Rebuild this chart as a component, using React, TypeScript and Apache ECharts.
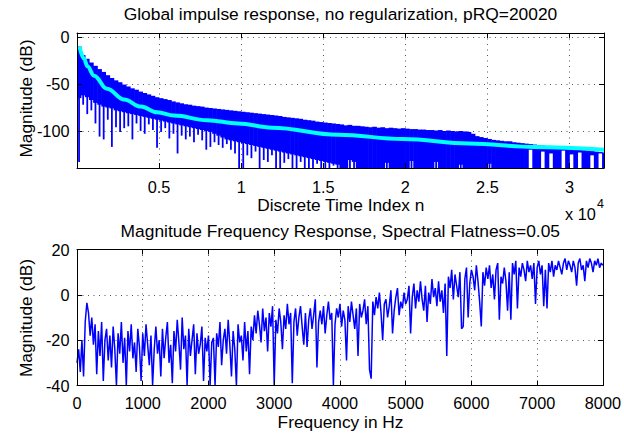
import React, { useEffect, useRef } from 'react';
import * as echarts from 'echarts';

// ---------- Top plot: impulse response (columns of 250 samples) ----------
const IR_FIRST_N = 125;
const IR_STEP = 250;
// upper edge of the blue mass (dB) per column
const irTop = [
  -10, -19, -23, -27, -30.5, -34, -37, -40.5, -43.5, -46,
  -48, -50.5, -52.5, -54.5, -56, -58, -59.5, -61, -62.5, -64,
  -65, -66, -67, -68.5, -69.5, -70.5, -71.5, -72, -73, -73.5,
  -74, -75, -75.5, -76, -76.5, -77, -77.5, -78, -78.5, -79,
  -79.5, -80, -80.5, -81, -81.5, -82, -82.5, -83, -83.5, -84,
  -85, -85.5, -86, -86.5, -87, -88, -88.5, -89, -90, -90.5,
  -91, -91.5, -92, -92.5, -93, -94, -93.5, -94.5, -94.5, -95,
  -95.5, -96, -95.5, -96.5, -96, -97, -96.5, -97, -97.5, -97,
  -97.5, -98, -98, -98.5, -98.5, -99, -99, -99.5, -99, -100,
  -99.5, -100, -100.5, -100, -100.5, -101, -103, -105.5, -106.5, -107.5,
  -108.5, -109.5, -110, -110.5, -111, -111, -112, -112.5, -113, -113.5,
  -114, -114.5, -115, -115.5, -116, -116.5, -117, -117.5, -118, -118.5,
  -119, -119.5, -120, -120.5, -121, -121.5, -122, -122.5, -123,
];
// lower edge of the solid blue core (dB) per column
const irCore = [
  -65, -62, -64, -67, -70, -72, -74, -75, -76, -78,
  -79, -80, -81, -82, -83, -84, -85, -86, -87, -88,
  -89, -90, -91, -92, -93, -94, -95, -96, -97, -98,
  -99, -100, -101, -103, -105, -107, -109, -110, -111, -112,
  -113, -114, -115, -116, -117, -118, -119, -120, -121, -122,
  -123, -124, -125, -126, -127, -128, -129, -130, -131, -132,
  -133, -134, -135, -136, -139.5, -139.5, -131, -133, -139.5, -139.5,
  -139.5, -139.5, -139.5, -139.5, -139.5, -134, -139.5, -139.5, -139.5, -139.5,
  -139.5, -132, -139.5, -139.5, -139.5, -139.5, -139.5, -133, -139.5, -139.5,
  -139.5, -139.5, -139.5, -136, -139.5, -139.5, -139.5, -139.5, -139.5, -139.5,
  -135, -139.5, -139.5, -139.5, -139.5, -139.5, -139.5, -139.5, -139.5, -139.5,
  -120, -139.5, -139.5, -122, -139.5, -124, -139.5, -139.5, -121, -139.5,
  -125, -139.5, -123, -139.5, -139.5, -126, -139.5, -124, -139.5,
];
// deepest thin spike below the core (dB) per column
const irSpike = [
  -133, -72, -82, -78, -92, -106, -109, -88, -117, -96,
  -101, -97, -95, -109, -92, -100, -103, -93, -99, -118,
  -101, -97, -108, -103, -124, -105, -109, -106, -112, -104,
  -110, -120, -117, -112, -115, -118, -114, -120, -124, -139.5,
  -139.5, -126, -129, -122, -139.5, -131, -133, -126, -139.5, -139.5,
  -134, -130, -139.5, -139.5, -133, -139.5, -139.5, -139.5, -135, -139.5,
  -139.5, -139.5, -137, -139.5, -139.5, -139.5, -139.5, -139.5, -139.5, -139.5,
  -139.5, -139.5, -139.5, -139.5, -139.5, -139.5, -139.5, -139.5, -139.5, -139.5,
  -139.5, -139.5, -139.5, -139.5, -139.5, -139.5, -139.5, -139.5, -139.5, -139.5,
  -139.5, -139.5, -139.5, -139.5, -139.5, -139.5, -139.5, -139.5, -139.5, -139.5,
  -139.5, -139.5, -139.5, -139.5, -139.5, -139.5, -139.5, -139.5, -139.5, -139.5,
  -120, -139.5, -139.5, -122, -139.5, -124, -139.5, -139.5, -121, -139.5,
  -125, -139.5, -123, -139.5, -139.5, -126, -139.5, -124, -139.5,
];
// cyan fitted decay curve
const fitN = [150, 430, 630, 1040, 1830, 2870, 3890, 4880, 5910, 7920, 9810, 11880, 15900, 19860, 23880, 27840, 32100];
const fitDb = [-10, -23, -31, -41, -55, -66.5, -74, -80, -83.5, -88.5, -92, -96.5, -104, -108.6, -113.4, -117, -120];
const irXTicks = [5000, 10000, 15000, 20000, 25000, 30000];
const irYTicks = [0, -50, -100];

// ---------- Bottom plot: magnitude frequency response (25 Hz bins) ----------
const FREQ_STEP = 25;
const freqDb = [
  -30, -24, -34, -20, -36, -12, -3.5, -8, -18, -10,
  -22, -13, -35, -16, -27, -12, -38, -20, -15, -29,
  -18, -32, -14, -24, -40, -17, -26, -12, -30, -19,
  -40, -16, -25, -13, -28, -21, -34, -15, -23, -38,
  -17, -27, -13, -22, -31, -18, -40, -24, -14, -26,
  -20, -36, -15, -28, -19, -12, -30, -22, -39, -16,
  -25, -11, -21, -33, -10, -24, -18, -40, -15, -27,
  -20, -13, -35, -17, -26, -22, -14, -38, -19, -25,
  -18, -40, -21, -19, -40, -17, -23, -12, -31, -20,
  -15, -26, -11, -22, -36, -16, -24, -40, -13, -21,
  -18, -29, -12, -25, -16, -35, -14, -20, -9, -17,
  -7, -13, -21, -6, -16, -10, -25, -8, -14, -5,
  -40, -11, -17, -6, -12, -24, -9, -15, -4, -13,
  -8, -39, -12, -6, -18, -10, -5, -14, -22, -8,
  -23, -11, -6, -15, -9, -2, -32, -12, -7, -13,
  -5, -17, -9, -3, -11, -8, -40, -13, -6, -10,
  -4, -14, -7, -11, -29, -5, -12, -3, -9, -15,
  -6, -27, -4, -10, -7, -2, -13, -5, -33, -37,
  -3, -9, -1, -6, 1, -8, -20, -4, -2, -10,
  -5, 2, -17, -7, -1, 3, -9, -3, -6, 1,
  -4, -2, 4, -17, -1, 5, -6, 2, -3, 6,
  -2, -7, 4, -12, 1, -4, 7, -1, 3, -5,
  6, -3, 2, -8, 5, -27, 8, 3, 11, -2,
  9, 4, -1, 10, -15, -14, 7, 12, -10, 5,
  11, 8, 2, 13, 6, -3, -14, 10, 4, 12,
  7, 13, 3, 9, -2, 11, 14, -11, 8, 5,
  12, 6, -7, 10, -11, 14, 9, 15, -6, 12,
  8, 14, 11, 6, 15, 10, 13, 7, 14, -4,
  12, 15, 9, 13, -5, 11, -6, 14, 10, 15,
  8, 13, 11, 15, 12, 9, 14, 16, 11, 15,
  13, 10, 15, 12, 4, 14, 16, 11, 13, 6,
  15, 12, 16, 14, 10, 15, 13, 16, 12, 14,
  13,
];

const FONT = '"Liberation Sans", Arial, Helvetica, sans-serif';
const BLUE = '#0000ff';
const CYAN = '#00ffff';

export default function App() {
  const ref = useRef<HTMLDivElement>(null);

  useEffect(() => {
    if (!ref.current) return;
    const chart = echarts.init(ref.current, null, { renderer: 'svg' });

    const irData = irTop.map((t, i) => [IR_FIRST_N + IR_STEP * i, t, irCore[i], irSpike[i]]);
    const fitData = fitN.map((n, i) => [n, fitDb[i]]);
    const freqData = freqDb.map((v, i) => [i * FREQ_STEP, v]);

    const gridLine = { show: true, lineStyle: { color: '#555', width: 1, type: [1, 4.5] } };
    const tickLabel = { color: '#000', fontFamily: FONT, fontSize: 16.3 };
    const frameLine = { show: true, onZero: false, lineStyle: { color: '#000', width: 1 } };
    const frameTick = (custom?: number[]) => ({
      show: true, inside: true, length: 5, lineStyle: { color: '#000', width: 1 },
      ...(custom ? { customValues: custom } : {}),
    });

    const topX = { min: 0, max: 32100 };
    const topY = { min: -139.5, max: 4.5 };
    const botX = { min: 0, max: 8000, interval: 1000 };
    const botY = { min: -40, max: 20, interval: 20 };
    const plain = (v: number) => String(v);

    const xAxis: any[] = [
      { type: 'value', gridIndex: 0, position: 'bottom', z: 1, ...topX,
        axisLine: { show: false, onZero: false }, axisTick: { show: false, customValues: irXTicks },
        splitLine: gridLine,
        axisLabel: { ...tickLabel, margin: 11, customValues: irXTicks, formatter: (v: number) => String(v / 10000) } },
      { type: 'value', gridIndex: 0, position: 'bottom', z: 10, ...topX,
        axisLine: frameLine, axisTick: frameTick(irXTicks), axisLabel: { show: false }, splitLine: { show: false } },
      { type: 'value', gridIndex: 0, position: 'top', z: 10, ...topX,
        axisLine: frameLine, axisTick: frameTick(irXTicks), axisLabel: { show: false }, splitLine: { show: false } },
      { type: 'value', gridIndex: 1, position: 'bottom', z: 1, ...botX,
        axisLine: { show: false, onZero: false }, axisTick: { show: false },
        splitLine: gridLine, axisLabel: { ...tickLabel, margin: 9, formatter: plain } },
      { type: 'value', gridIndex: 1, position: 'bottom', z: 10, ...botX,
        axisLine: frameLine, axisTick: frameTick(), axisLabel: { show: false }, splitLine: { show: false } },
      { type: 'value', gridIndex: 1, position: 'top', z: 10, ...botX,
        axisLine: frameLine, axisTick: frameTick(), axisLabel: { show: false }, splitLine: { show: false } },
    ];
    const yAxis: any[] = [
      { type: 'value', gridIndex: 0, position: 'left', z: 1, ...topY,
        axisLine: { show: false, onZero: false }, axisTick: { show: false, customValues: irYTicks },
        splitLine: gridLine, axisLabel: { ...tickLabel, margin: 7.5, customValues: irYTicks, formatter: plain } },
      { type: 'value', gridIndex: 0, position: 'left', z: 10, ...topY,
        axisLine: frameLine, axisTick: frameTick(irYTicks), axisLabel: { show: false }, splitLine: { show: false } },
      { type: 'value', gridIndex: 0, position: 'right', z: 10, ...topY,
        axisLine: frameLine, axisTick: frameTick(irYTicks), axisLabel: { show: false }, splitLine: { show: false } },
      { type: 'value', gridIndex: 1, position: 'left', z: 1, ...botY,
        axisLine: { show: false, onZero: false }, axisTick: { show: false },
        splitLine: gridLine, axisLabel: { ...tickLabel, margin: 7.5, formatter: plain } },
      { type: 'value', gridIndex: 1, position: 'left', z: 10, ...botY,
        axisLine: frameLine, axisTick: frameTick(), axisLabel: { show: false }, splitLine: { show: false } },
      { type: 'value', gridIndex: 1, position: 'right', z: 10, ...botY,
        axisLine: frameLine, axisTick: frameTick(), axisLabel: { show: false }, splitLine: { show: false } },
    ];

    const txt = (text: string, x: number, y: number, size: number, align = 'center', rotation = 0) => ({
      type: 'text', x, y, rotation, silent: true, z: 20,
      style: {
        text, fill: '#000', font: `${size}px ${FONT}`,
        align, verticalAlign: 'middle', textAlign: align, textVerticalAlign: 'middle',
      },
    });

    chart.setOption({
      animation: false,
      backgroundColor: '#fff',
      grid: [
        { left: 77, top: 33, width: 527, height: 135 },
        { left: 77, top: 249.5, width: 527, height: 136 },
      ],
      xAxis,
      yAxis,
      graphic: [
        txt('Global impulse response, no regularization, pRQ=20020', 340.5, 13.7, 17.4),
        txt('Discrete Time Index n', 340.8, 205, 17.3),
        txt('x 10', 565, 213.5, 16.3, 'left'),
        txt('4', 597, 203.5, 12.5, 'left'),
        txt('Magnitude Frequency Response, Spectral Flatness=0.05', 340.3, 231, 17.4),
        txt('Frequency in Hz', 340.5, 421.5, 17.3),
        txt('Magnitude (dB)', 25.5, 98.5, 17.3, 'center', Math.PI / 2),
        txt('Magnitude (dB)', 25.5, 318, 17.3, 'center', Math.PI / 2),
      ],
      series: [
        {
          type: 'custom',
          xAxisIndex: 0,
          yAxisIndex: 0,
          clip: true,
          z: 2,
          encode: { x: 0, y: [1, 2, 3] },
          data: irData,
          renderItem: (params: any, api: any) => {
            const n = api.value(0);
            const pTop = api.coord([n, api.value(1)]);
            const pCore = api.coord([n, api.value(2)]);
            const pSpike = api.coord([n, api.value(3)]);
            const w = api.size([IR_STEP, 0])[0];
            const children: any[] = [
              {
                type: 'rect',
                shape: { x: pTop[0] - w / 2 - 0.3, y: pTop[1], width: w + 0.6, height: pCore[1] - pTop[1] },
                style: { fill: BLUE },
              },
            ];
            if (pSpike[1] > pCore[1] + 0.5) {
              children.push({
                type: 'line',
                shape: { x1: pCore[0], y1: pCore[1] - 1, x2: pSpike[0], y2: pSpike[1] },
                style: { stroke: BLUE, lineWidth: 1.8 },
              });
            }
            return { type: 'group', children };
          },
        },
        {
          type: 'line',
          xAxisIndex: 0,
          yAxisIndex: 0,
          z: 3,
          data: fitData,
          smooth: 0.4,
          smoothMonotone: 'x',
          showSymbol: false,
          symbol: 'none',
          lineStyle: { color: CYAN, width: 4 },
          silent: true,
        },
        {
          type: 'line',
          xAxisIndex: 3,
          yAxisIndex: 3,
          z: 2,
          data: freqData,
          showSymbol: false,
          symbol: 'none',
          clip: true,
          lineStyle: { color: BLUE, width: 1.5 },
          silent: true,
        },
      ],
    });

    return () => chart.dispose();
  }, []);

  return (
    <div
      ref={ref}
      style={{ position: 'fixed', left: 0, top: 0, width: 624, height: 436, background: '#fff' }}
    />
  );
}
